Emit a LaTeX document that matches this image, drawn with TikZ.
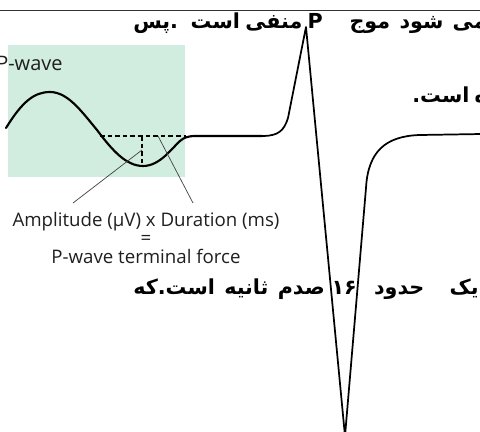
\documentclass[tikz,border=0pt]{standalone}
\usepackage{fontspec}
\setmainfont{Open Sans}
\newfontfamily\farsifont[Script=Arabic]{DejaVu Sans}
\TeXXeTstate=1
\definecolor{mint}{RGB}{209,237,224}
\definecolor{leadgray}{RGB}{70,70,70}
\newcommand\gapp[1]{\hspace{#1pt}}
\tikzset{
  fa/.style={inner sep=0pt, font=\farsifont\bfseries\fontsize{15.5}{17}\selectfont},
  lbl/.style={inner sep=0pt, text=black!88, font=\fontsize{14}{13.5}\selectfont},
  wave/.style={line width=1.6pt, line join=round, line cap=round},
  ecg/.style={line width=1.3pt, line join=round},
  dashline/.style={line width=1pt, dash pattern=on 3.5pt off 2.2pt},
  leader/.style={line width=0.55pt, leadgray}
}
\begin{document}
\begin{tikzpicture}[x=0.75pt,y=-0.75pt]
\useasboundingbox (0,0) rectangle (480,432);
\clip (0,0) rectangle (480,432);
% inset background
\fill[mint] (8,45) rectangle (185,177);
% top rule
\coordinate (r0) at (0,10);
\coordinate (r1) at (480,10);
\draw[line width=0.7pt, black!80] (r0) -- (r1);
% label P-wave
\node[lbl, anchor=base west, font=\fontsize{15}{15}\selectfont] (pw) at (-4,70) {P-wave};
% dashed guides
\coordinate (d0) at (100,136);
\coordinate (d1) at (186,136);
\coordinate (v0) at (142,136);
\coordinate (v1) at (142,166);
\draw[dashline] (d0) -- (d1);
\draw[dashline] (v0) -- (v1);
% P wave and ECG
\draw[wave] (6,128) .. controls (22,102) and (34,92) .. (50,92)
  .. controls (68,92) and (82,112) .. (97,130)
  .. controls (112,150) and (126,166) .. (143,166)
  .. controls (160,166) and (172,148) .. (180,141)
  .. controls (184,137.5) and (188,136) .. (196,136) -- (262,136);
\draw[ecg] (260,136) -- (264,136) .. controls (278,135.5) and (284,131) .. (288,118)
  -- (306,27) -- (345,436) -- (366,188)
  .. controls (368,152) and (385,136) .. (420,135) -- (482,134);
% formula text
\node[lbl, anchor=base] (f1) at (146,227) {Amplitude (µV) x Duration (ms)};
\node[lbl, anchor=base] (f2) at (146,245) {=};
\node[lbl, anchor=base] (f3) at (146,263) {P-wave terminal force};
% leaders
\coordinate (a0) at (142,150);
\coordinate (a1) at (73,203);
\coordinate (b0) at (158,136);
\coordinate (b1) at (193,203);
\draw[leader] (a0) -- (a1);
\draw[leader] (b0) -- (b1);
% Persian text
\node[fa, anchor=base west] (t1) at (133,28)
  {\beginR می\gapp{7}شود\gapp{7}موج\gapp{20}P\gapp{4}منفی\gapp{4}است\gapp{9.5}.\kern0pt پس\endR};
\node[fa, anchor=base west] (t2) at (412,103)
  {\beginR ه\gapp{4}است\kern0pt.\endR};
\node[fa, anchor=base west] (t3) at (133,295)
  {\beginR یک\gapp{19}حدود\gapp{13}\beginL ۱\kern0pt۶\endL\gapp{5}صدم\gapp{7}ثانیه\gapp{7}است\kern0pt.\kern0pt که\endR};
\end{tikzpicture}
\end{document}
